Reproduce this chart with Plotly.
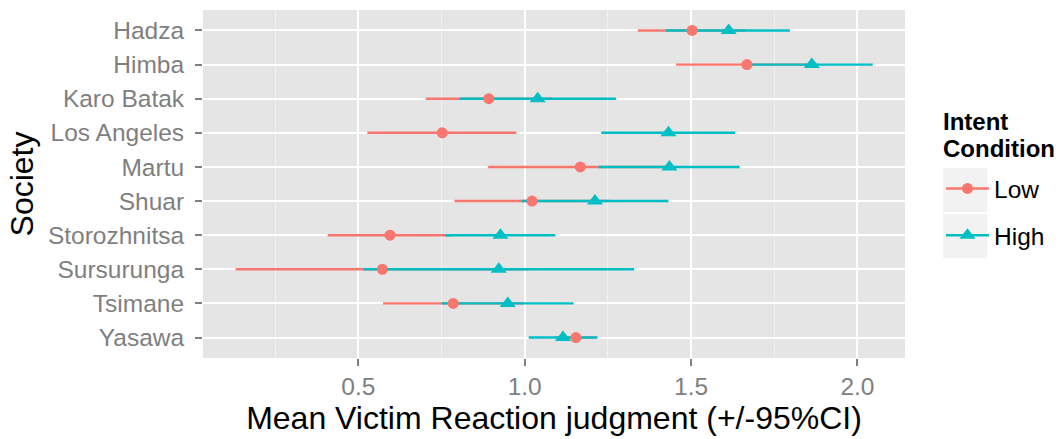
import plotly.graph_objects as go

societies = ["Hadza", "Himba", "Karo Batak", "Los Angeles", "Martu", "Shuar",
             "Storozhnitsa", "Sursurunga", "Tsimane", "Yasawa"]

low_mean = [1.503, 1.668, 0.892, 0.752, 1.167, 1.022, 0.595, 0.572, 0.785, 1.154]
low_lo   = [1.340, 1.455, 0.702, 0.527, 0.890, 0.789, 0.408, 0.131, 0.574, 1.094]
low_hi   = [1.666, 1.881, 1.082, 0.975, 1.444, 1.255, 0.782, 1.013, 0.996, 1.214]

high_mean = [1.613, 1.863, 1.039, 1.432, 1.435, 1.211, 0.927, 0.922, 0.949, 1.115]
high_lo   = [1.425, 1.680, 0.804, 1.230, 1.222, 0.990, 0.762, 0.515, 0.751, 1.012]
high_hi   = [1.797, 2.046, 1.274, 1.633, 1.646, 1.432, 1.092, 1.329, 1.147, 1.219]

RED = "#F8766D"
TEAL = "#00BFC4"
LW = 2.4

W, H = 1062, 439
L, R, T, B = 203, 157, 10, 81
PW, PH = W - L - R, H - T - B


def px_x(x):
    return (x - L) / PW


def px_y(y):
    return (H - B - y) / PH


def err(mean, lo, hi):
    return dict(type="data", symmetric=False,
                array=[h - m for m, h in zip(mean, hi)],
                arrayminus=[m - l for m, l in zip(mean, lo)])


fig = go.Figure()
for mean, lo, hi, col in [(low_mean, low_lo, low_hi, RED), (high_mean, high_lo, high_hi, TEAL)]:
    e = err(mean, lo, hi)
    e.update(color=col, thickness=LW, width=0)
    fig.add_trace(go.Scatter(x=mean, y=societies, mode="markers",
                             marker=dict(size=1, color="rgba(0,0,0,0)"),
                             error_x=e, showlegend=False, hoverinfo="skip"))
fig.add_trace(go.Scatter(x=high_mean, y=societies, mode="markers",
                         marker=dict(symbol="triangle-up", size=14, color=TEAL),
                         showlegend=False))
fig.add_trace(go.Scatter(x=low_mean, y=societies, mode="markers",
                         marker=dict(symbol="circle", size=11, color=RED),
                         showlegend=False))
fig.add_trace(go.Scatter(x=[None], y=[None], mode="lines+markers", name="Low",
                         legendgroup="low",
                         line=dict(color=RED, width=LW),
                         marker=dict(symbol="circle", size=11, color=RED)))
fig.add_trace(go.Scatter(x=[None], y=[None], mode="lines+markers", name="High",
                         legendgroup="high",
                         line=dict(color=TEAL, width=LW),
                         marker=dict(symbol="triangle-up", size=14, color=TEAL)))

font_family = "Liberation Sans, Arial, sans-serif"

shapes = []
for top, bot in [(168, 212), (214, 258)]:
    shapes.append(dict(type="rect", xref="paper", yref="paper", layer="below",
                       x0=px_x(943), x1=px_x(987), y0=px_y(bot), y1=px_y(top),
                       fillcolor="#F2F2F2", line=dict(width=0)))

annotations = [
    dict(text="<b>Intent</b>", xref="paper", yref="paper", x=px_x(941), y=px_y(121),
         xanchor="left", yanchor="middle", showarrow=False,
         font=dict(size=24, color="black")),
    dict(text="<b>Condition</b>", xref="paper", yref="paper", x=px_x(941), y=px_y(148),
         xanchor="left", yanchor="middle", showarrow=False,
         font=dict(size=24, color="black")),
]

fig.update_layout(
    width=W, height=H,
    margin=dict(l=L, r=R, t=T, b=B, autoexpand=False),
    paper_bgcolor="white",
    plot_bgcolor="#E5E5E5",
    font=dict(family=font_family, color="black"),
    showlegend=True,
    shapes=shapes,
    annotations=annotations,
    legend=dict(
        font=dict(size=24.5, color="black"),
        x=px_x(941), xanchor="left", y=px_y(166), yanchor="top",
        bgcolor="rgba(0,0,0,0)",
        tracegroupgap=12,
        traceorder="grouped",
        itemwidth=43,
    ),
    xaxis=dict(
        range=[0.033, 2.143], automargin=False,
        tickmode="array", tickvals=[0.5, 1.0, 1.5, 2.0], ticktext=["0.5", "1.0", "1.5", "2.0"],
        showgrid=True, gridcolor="white", gridwidth=2.2,
        minor=dict(tickmode="array", tickvals=[0.25, 0.75, 1.25, 1.75],
                   showgrid=True, gridcolor="#F2F2F2", gridwidth=1, ticks=""),
        zeroline=False,
        ticks="outside", ticklen=7, tickwidth=2, tickcolor="#7F7F7F",
        tickfont=dict(size=24.5, color="#7F7F7F"),
        title=dict(text="Mean Victim Reaction judgment (+/-95%CI)",
                   font=dict(size=32, color="black"), standoff=1),
        showline=False,
    ),
    yaxis=dict(
        type="category", categoryorder="array", categoryarray=societies,
        range=[9.6, -0.6], automargin=False,
        showgrid=True, gridcolor="white", gridwidth=2.2,
        zeroline=False,
        ticks="outside", ticklen=7, tickwidth=2, tickcolor="#7F7F7F",
        tickfont=dict(size=24.5, color="#7F7F7F"),
        ticklabelstandoff=6,
        title=dict(text="Society", font=dict(size=32, color="black"), standoff=4),
        showline=False,
    ),
)

fig.write_html("out.html", config={"displayModeBar": False},
               post_script="document.body.style.margin='0';")
